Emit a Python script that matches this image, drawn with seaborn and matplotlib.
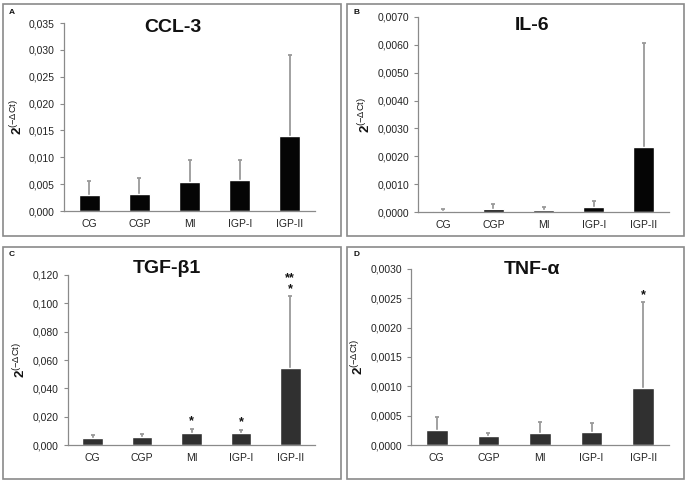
import numpy as np
import pandas as pd
import matplotlib
matplotlib.use("Agg")
import matplotlib.pyplot as plt
import matplotlib.ticker as mticker
from matplotlib.patches import Rectangle
import seaborn as sns

# ── Datos ────────────────────────────────────────────────────
grupos = ["CG", "CGP", "MI", "IGP-I", "IGP-II"]

ccl3_media = [0.0029, 0.0032, 0.0054, 0.0057, 0.0139]
ccl3_sd = [0.0027, 0.0029, 0.0041, 0.0038, 0.0151]

il6_media = [0.00004, 0.00010, 0.00007, 0.00018, 0.00233]
il6_sd = [0.00005, 0.00020, 0.00011, 0.00022, 0.00372]

tgf_media = [0.0052, 0.0060, 0.0082, 0.0082, 0.0545]
tgf_sd = [0.0021, 0.0015, 0.0033, 0.0026, 0.0505]
tgf_sig = ["", "", "*", "*", "**\n*"]

tnf_media = [0.00026, 0.00016, 0.00021, 0.00023, 0.00098]
tnf_sd = [0.00022, 0.00005, 0.00018, 0.00014, 0.00145]
tnf_sig = ["", "", "", "", "*"]

# ── Configuración general ────────────────────────────────────
sns.set_theme(style="white")
plt.rcParams["font.family"] = ["Liberation Sans", "DejaVu Sans"]
plt.rcParams["mathtext.fontset"] = "custom"
plt.rcParams["mathtext.rm"] = "Liberation Sans"
plt.rcParams["mathtext.bf"] = "Liberation Sans:bold"

W, H = 688, 486
fig = plt.figure(figsize=(W / 100, H / 100), dpi=100)
fig.patch.set_facecolor("white")


def px_axes(left, right, top, bottom):
    return fig.add_axes([left / W, 1 - bottom / H, (right - left) / W, (bottom - top) / H])


def caja(x0, x1, y0, y1):
    fig.patches.append(Rectangle((x0 / W, 1 - y1 / H), (x1 - x0) / W, (y1 - y0) / H,
                                 transform=fig.transFigure, fill=False,
                                 edgecolor="#8a8a8a", linewidth=1.2))


paneles = [
    dict(letra="A", titulo="CCL-3", media=ccl3_media, sd=ccl3_sd, sig=None,
         ymax=0.035, paso=0.005, dec=3, color="#050505",
         ax=(64, 315, 23, 211), caja=(3, 341, 4, 236), tit=(173, 27)),
    dict(letra="B", titulo="IL-6", media=il6_media, sd=il6_sd, sig=None,
         ymax=0.007, paso=0.001, dec=4, color="#050505",
         ax=(418, 669, 17, 212), caja=(347, 684, 4, 236), tit=(532, 25)),
    dict(letra="C", titulo="TGF-β1", media=tgf_media, sd=tgf_sd, sig=tgf_sig,
         ymax=0.12, paso=0.02, dec=3, color="#303030",
         ax=(68, 315, 275, 445), caja=(3, 341, 247, 479), tit=(167, 268)),
    dict(letra="D", titulo="TNF-α", media=tnf_media, sd=tnf_sd, sig=tnf_sig,
         ymax=0.003, paso=0.0005, dec=4, color="#303030",
         ax=(411, 669, 269, 445), caja=(347, 684, 247, 479), tit=(532, 269)),
]

for p in paneles:
    caja(*p["caja"])
    ax = px_axes(*p["ax"])
    df = pd.DataFrame({"grupo": grupos, "valor": p["media"]})
    sns.barplot(data=df, x="grupo", y="valor", color=p["color"], saturation=1,
                width=0.42, errorbar=None, ax=ax, zorder=2)
    x = np.arange(len(grupos))
    # solo la barra de error superior (sin tapa inferior)
    _, tapas, _ = ax.errorbar(x, p["media"], yerr=[np.zeros(len(grupos)), p["sd"]],
                              fmt="none", ecolor="#9a9a9a", elinewidth=1.3,
                              capsize=1.5, capthick=1.3, zorder=1)
    tapas[0].set_visible(False)

    if p["sig"]:
        for xi, m, s, txt in zip(x, p["media"], p["sd"], p["sig"]):
            if txt:
                ax.annotate(txt, (xi, m + s), xytext=(0, 1), textcoords="offset points",
                            ha="center", va="bottom", fontsize=9, fontweight="bold",
                            linespacing=0.8, color="#111111", annotation_clip=False)

    ax.set_ylim(0, p["ymax"])
    ax.set_xlim(-0.5, len(grupos) - 0.5)
    ax.yaxis.set_major_locator(mticker.MultipleLocator(p["paso"]))
    dec = p["dec"]
    ax.yaxis.set_major_formatter(mticker.FuncFormatter(
        lambda v, pos, d=dec: f"{v:.{d}f}".replace(".", ",")))
    ax.set_xticks(np.arange(-0.5, len(grupos), 1.0), minor=True)
    ax.tick_params(axis="x", which="major", length=0, labelsize=7.5, pad=6, colors="#222222")
    ax.tick_params(axis="x", which="minor", length=3, color="#8a8a8a", width=0.8)
    ax.tick_params(axis="y", length=3, color="#8a8a8a", width=0.8, labelsize=7.5,
                   labelcolor="#222222", left=True)
    for lado in ["top", "right"]:
        ax.spines[lado].set_visible(False)
    for lado in ["left", "bottom"]:
        ax.spines[lado].set_color("#8a8a8a")
        ax.spines[lado].set_linewidth(0.9)

    ax.set_xlabel("")
    ax.set_ylabel(r"$\mathbf{2}^{\mathrm{(-\Delta Ct)}}$", fontsize=9.5, color="#111111",
                  labelpad=3)

    fig.text(p["tit"][0] / W, 1 - p["tit"][1] / H, p["titulo"], ha="center", va="center",
             fontsize=14, fontweight="bold", color="#111111")
    fig.text((p["caja"][0] + 9) / W, 1 - (p["caja"][2] + 8) / H, p["letra"],
             ha="center", va="center", fontsize=6, fontweight="bold", color="#111111")

fig.savefig("out.png", dpi=100, facecolor="white")
